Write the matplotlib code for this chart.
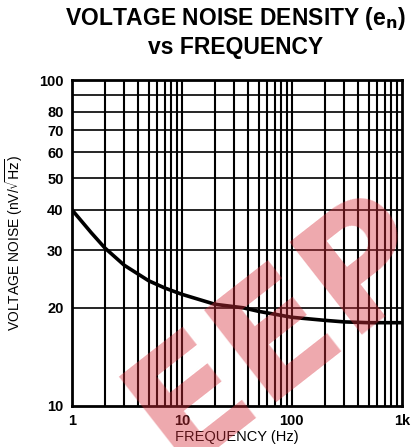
import matplotlib
matplotlib.use('Agg')
import matplotlib.pyplot as plt
import numpy as np

# noise curve
freq = [1, 1.5, 2, 3, 5, 7, 10, 20, 36, 50, 100, 200, 300, 500, 1000]
en   = [40, 34, 30.5, 27, 24.2, 23, 22, 20.5, 20, 19.5, 18.7, 18.3, 18.1, 18.0, 18.0]

xticks = [1, 10, 100, 1000]
xticklabels = ['1', '10', '100', '1k']
yticks = [10, 20, 30, 40, 50, 60, 70, 80, 100]
ygrid = [20, 30, 40, 50, 60, 70, 80, 90]

plt.rcParams['font.family'] = ['Liberation Sans', 'DejaVu Sans']

fig = plt.figure(figsize=(4.13, 4.47), dpi=100)
ax = fig.add_axes([0.174, 0.092, 0.799, 0.729])

ax.set_xscale('log')
ax.set_yscale('log')
ax.set_xlim(1, 1000)
ax.set_ylim(10, 100)

# vertical grid: every decade step
xgrid = [m * 10**d for d in range(3) for m in range(1, 10)][1:]
for xv in xgrid:
    ax.axvline(xv, color='black', lw=1.5, zorder=1)
for yv in ygrid:
    ax.axhline(yv, color='black', lw=1.2, zorder=1)

ax.plot(freq, en, color='black', lw=2.6, zorder=3)

ax.set_xticks(xticks)
ax.set_xticklabels(xticklabels)
ax.set_yticks(yticks)
ax.set_yticklabels([str(v) for v in yticks])
ax.xaxis.set_minor_locator(matplotlib.ticker.NullLocator())
ax.yaxis.set_minor_locator(matplotlib.ticker.NullLocator())
ax.tick_params(length=0, pad=6, labelsize=10.5)
for lab in ax.get_xticklabels() + ax.get_yticklabels():
    lab.set_fontweight('bold')
for s in ax.spines.values():
    s.set_linewidth(2)

ax.set_xlabel('FREQUENCY (Hz)', fontsize=10.5, labelpad=1)
ax.set_ylabel(r'VOLTAGE NOISE (nV/$\sqrt{\mathrm{Hz}}$)', fontsize=10, labelpad=10)

fig.text(0.57, 0.958, r'VOLTAGE NOISE DENSITY (e$_\mathbf{n}$)', ha='center', va='center',
         fontsize=16.5, fontweight='bold')
fig.text(0.57, 0.893, 'vs FREQUENCY', ha='center', va='center',
         fontsize=16.5, fontweight='bold')

# red watermark over the plot
fig.text(0.68, 0.26, 'EEP', ha='center', va='center', fontsize=115, fontweight='bold',
         family='DejaVu Sans', color='#d8303c', alpha=0.42, rotation=38, zorder=10)

fig.savefig('out.png', dpi=100)
